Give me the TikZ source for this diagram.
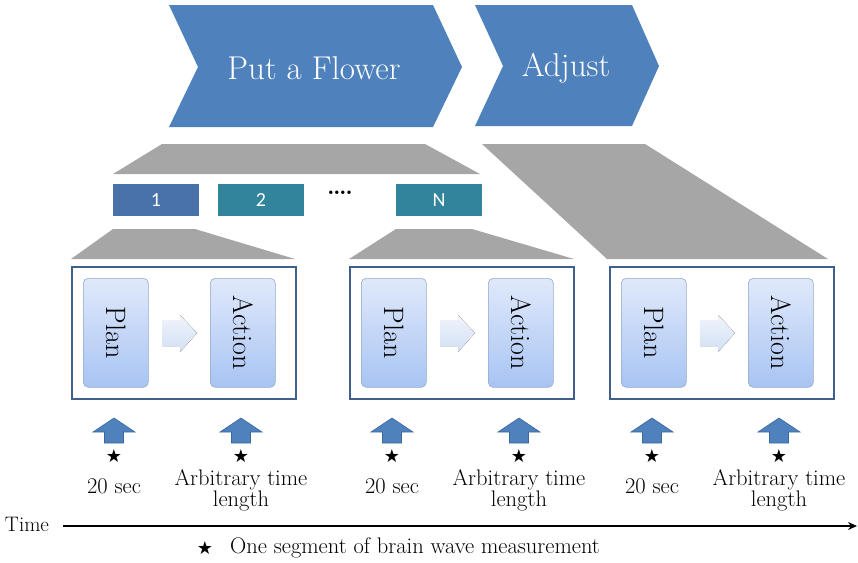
\documentclass[tikz,border=0pt]{standalone}
\usepackage{fontspec}
\newfontfamily\carlito{Carlito}
\newfontfamily\dejavu{DejaVu Sans}
\usetikzlibrary{arrows.meta}
\definecolor{chev}{HTML}{4F81BD}
\definecolor{grayfill}{HTML}{A6A6A6}
\definecolor{segone}{HTML}{4A72AA}
\definecolor{segteal}{HTML}{31849B}
\definecolor{boxblue}{HTML}{3F5F8F}
\definecolor{stagetop}{HTML}{E0E9FB}
\definecolor{stagebot}{HTML}{A8C4F3}
\definecolor{stageborder}{HTML}{94A9C9}
\definecolor{flowtop}{HTML}{F0F4FB}
\definecolor{flowbot}{HTML}{D2DFF4}
\definecolor{uparrowline}{HTML}{3A679E}
\tikzset{
  chevron/.style={fill=chev, draw=none},
  graybar/.style={fill=grayfill, draw=none},
  segbox/.style={draw=boxblue, line width=1.6pt, minimum width=224pt, minimum height=132pt, inner sep=0pt, anchor=north west},
  stagebox/.style={draw=stageborder, line width=0.6pt, rounded corners=5pt, top color=stagetop, bottom color=stagebot, minimum width=65pt, minimum height=109pt, inner sep=0pt, anchor=north west},
  stagetext/.style={font=\fontsize{28}{30}\selectfont, rotate=-90, inner sep=0pt},
  flowarrow/.style={top color=flowtop, bottom color=flowbot, draw=none},
  uparrow/.style={fill=chev, draw=uparrowline, line width=0.6pt},
  numbox/.style={minimum width=86pt, minimum height=32pt, inner sep=0pt, text=white, font=\carlito\fontsize{20}{22}\selectfont},
  chevtext/.style={text=white, font=\fontsize{33}{36}\selectfont},
  startext/.style={font=\dejavu\fontsize{18}{18}\selectfont, inner sep=0pt},
  lbl/.style={font=\fontsize{22.5}{21}\selectfont, align=center, inner sep=0pt},
}
\begin{document}
\begin{tikzpicture}[x=1pt,y=-1pt]
\useasboundingbox (0,0) rectangle (858,562);
% chevrons
\fill[chevron] (169,5) -- (433,5) -- (462,67) -- (433,127) -- (169,127) -- (198,67) -- cycle;
\fill[chevron] (475,5) -- (632,5) -- (659,66) -- (632,126) -- (475,126) -- (503,66) -- cycle;
\node[chevtext] (flower) at (314,68) {Put a Flower};
\node[chevtext] (adjust) at (566,68) {Adjust};
% gray fans
\fill[graybar] (162,144) -- (425,144) -- (480,174) -- (113,174) -- cycle;
\fill[graybar] (482,144) -- (645,144) -- (828,259) -- (607,259) -- cycle;
\fill[graybar] (113,229) -- (195,229) -- (295,259) -- (71,259) -- cycle;
\fill[graybar] (396,229) -- (472,229) -- (574,259) -- (349,259) -- cycle;
% numbered segments
\node[numbox, fill=segone] (n1) at (156,200) {1};
\node[numbox, fill=segteal] (n2) at (261,200) {2};
\node[font=\carlito\fontsize{24}{24}\selectfont, inner sep=0pt] (dots) at (340,195) {····};
\node[numbox, fill=segteal] (nN) at (439,200) {N};
% three segment boxes
\foreach \l/\n in {71/a,349/b,609/c}{
  \node[segbox] (box\n) at (\l,266) {};
  \node[stagebox] (plan\n) at (\l+12,278) {};
  \node[stagetext] (plantext\n) at (plan\n.center) {Plan};
  \node[stagebox] (act\n) at (\l+139,278) {};
  \node[stagetext] (acttext\n) at (act\n.center) {Action};
  \fill[flowarrow] (\l+91,320) -- (\l+109,320) -- (\l+109,315) -- (\l+126,333) -- (\l+109,352) -- (\l+109,346) -- (\l+91,346) -- cycle;
  \foreach \c/\m in {43/p,170/q}{
    \begin{scope}[shift={(\l+\c,443)}]
      \draw[uparrow] (0,-25) -- (21,-11) -- (9.5,-11) -- (9.5,0) -- (-9.5,0) -- (-9.5,-11) -- (-21,-11) -- cycle;
    \end{scope}
    \node[startext] (star\n\m) at (\l+\c,456) {★};
  }
  \node[lbl] (sec\n) at (\l+43,486) {20 sec};
  \node[lbl] (arb\n) at (\l+170,490) {Arbitrary time\\length};
}
% time axis
\node[font=\fontsize{21}{22}\selectfont, inner sep=0pt] (time) at (27,524) {Time};
\coordinate (tstart) at (63,526);
\coordinate (tend) at (857,526);
\draw[line width=1.8pt, -{Stealth[length=9pt,width=8pt]}] (tstart) -- (tend);
% legend
\node[startext] (legstar) at (205,548) {★};
\node[font=\fontsize{22.5}{24}\selectfont, anchor=west, inner sep=0pt] (legend) at (230,548) {One segment of brain wave measurement};
\end{tikzpicture}
\end{document}
